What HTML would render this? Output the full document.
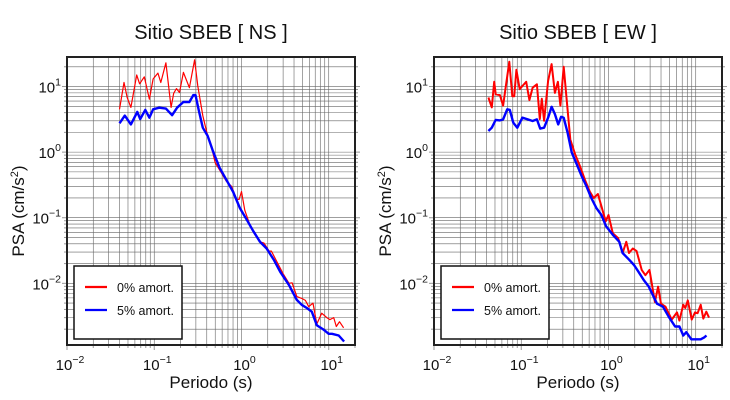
<!DOCTYPE html>
<html><head><meta charset="utf-8"><style>
body{margin:0;background:#fff}
svg{display:block;font-family:"Liberation Sans",sans-serif}
</style></head><body>
<svg id="c" width="730" height="400" viewBox="0 0 730 400"></svg>
<script>
// ---- Data (period s, PSA cm/s^2) ----
const nsRedT=[0.040,0.045,0.049,0.054,0.063,0.068,0.077,0.088,0.097,0.11,0.119,0.136,0.156,0.167,0.18,0.195,0.216,0.253,0.29,0.316,0.36,0.40,0.44,0.50,0.59,0.67,0.77,0.88,0.94,1.0,1.09,1.25,1.43,1.63,1.81,2.07,2.2,2.56,3.0,3.5,3.8,4.3,4.9,5.4,5.9,6.6,7.3,8.3,9.5,10.3,11.4,12.2,13.3,14.8];
const nsRedV=[4.5,11.5,6.8,4.8,15,11,14,6.4,13,16,11.5,23,4.8,7.9,9.3,8.1,16.4,9.6,25.5,10.2,3.6,2.0,1.4,0.69,0.48,0.36,0.30,0.19,0.19,0.25,0.13,0.078,0.055,0.043,0.041,0.031,0.031,0.021,0.014,0.010,0.0102,0.0063,0.0059,0.0055,0.0044,0.005,0.0024,0.0035,0.003,0.0028,0.003,0.0022,0.0026,0.0021];
const nsBlueT=[0.04,0.046,0.054,0.064,0.069,0.079,0.088,0.097,0.114,0.136,0.16,0.183,0.216,0.253,0.28,0.297,0.325,0.36,0.41,0.47,0.56,0.67,0.8,0.96,1.15,1.37,1.63,1.94,2.34,2.78,3.5,4.3,4.9,5.6,6.4,7.3,8.6,10,10.9,13,15];
const nsBlueV=[2.75,3.6,2.65,4.1,3.2,4.4,3.35,4.5,4.75,4.6,3.65,4.75,5.8,5.8,7.4,7.4,4.25,2.36,1.76,1.04,0.58,0.38,0.25,0.14,0.093,0.062,0.043,0.034,0.023,0.015,0.0094,0.0056,0.0047,0.0042,0.0037,0.0023,0.002,0.0017,0.0017,0.0016,0.0013];
const ewRedT=[0.042,0.046,0.049,0.051,0.057,0.062,0.067,0.073,0.079,0.083,0.088,0.096,0.103,0.114,0.124,0.135,0.151,0.163,0.172,0.183,0.203,0.223,0.243,0.263,0.281,0.307,0.365,0.415,0.472,0.537,0.61,0.676,0.757,0.83,0.93,1.0,1.12,1.29,1.45,1.6,1.72,1.9,2.1,2.4,2.65,2.95,3.4,3.7,4.0,4.5,5.3,6.1,6.5,7.2,7.6,8.1,9.0,9.8,10.5,11.4,12.2,13.2,14.2];
const ewRedV=[6.8,4.8,11.8,7.6,7.4,5.1,10.8,23.8,7.1,7.1,18,9.1,10.2,11.8,6.2,9.6,10.8,3.2,6.5,3.0,12.2,22,8,11.8,5.1,20,1.56,0.92,0.61,0.38,0.25,0.2,0.23,0.15,0.088,0.11,0.058,0.049,0.029,0.043,0.029,0.034,0.031,0.016,0.0133,0.016,0.0052,0.0089,0.0049,0.0044,0.0028,0.0036,0.0027,0.0047,0.0042,0.0055,0.0028,0.0036,0.0035,0.0047,0.0029,0.0037,0.003];
const ewBlueT=[0.042,0.046,0.051,0.057,0.062,0.069,0.074,0.081,0.09,0.103,0.119,0.135,0.151,0.165,0.183,0.203,0.223,0.243,0.265,0.286,0.307,0.34,0.38,0.433,0.493,0.56,0.636,0.727,0.83,0.94,1.12,1.33,1.45,1.72,1.96,2.23,2.54,2.9,3.6,4.2,4.9,5.8,6.5,7.2,7.8,8.9,10.5,11.4,12.5,13.3];
const ewBlueV=[2.1,2.36,3.1,3.05,3.15,4.5,4.4,2.8,2.36,3.35,3.15,2.98,3.15,2.28,2.36,3.35,4.9,3.8,2.65,3.45,3.35,1.98,0.98,0.65,0.43,0.30,0.2,0.14,0.11,0.074,0.055,0.043,0.029,0.023,0.019,0.0147,0.0112,0.0089,0.0049,0.0044,0.0031,0.0022,0.0022,0.0016,0.0018,0.0014,0.0014,0.0014,0.0015,0.0016];
const xTickExp=[-2,-1,0,1];
const yTickExp=[-2,-1,0,1];

const NS="http://www.w3.org/2000/svg";
const svg=document.getElementById('c');
function mk(tag,attrs,parent){const e=document.createElementNS(NS,tag);for(const k in attrs)e.setAttribute(k,attrs[k]);(parent||svg).appendChild(e);return e;}

function plot(p){
  const g=mk('g',{});
  
  
  const lx0=-2,lx1=Math.log10(20),ly0=-2.94,ly1=1.45;
  const X=v=>p.x0+(Math.log10(v)-lx0)/(lx1-lx0)*(p.x1-p.x0);
  const Y=v=>p.y1-(Math.log10(v)-ly0)/(ly1-ly0)*(p.y1-p.y0);
  for(let e=-2;e<=1;e++)for(let m=1;m<10;m++){const v=m*Math.pow(10,e);if(v>20)continue;const x=X(v);
    const l=mk('line',{x1:x,x2:x,y1:p.y0,y2:p.y1,stroke:'#666','stroke-width':0.6},g);
    
    const t=mk('line',{x1:x,x2:x,y1:p.y1,y2:p.y1+(m==1?5:3),stroke:'#999','stroke-width':1},g);
    }
  for(let e=-3;e<=1;e++)for(let m=1;m<10;m++){const v=m*Math.pow(10,e);const lv=Math.log10(v);if(lv<ly0||lv>ly1)continue;const y=Y(v);
    const l=mk('line',{x1:p.x0,x2:p.x1,y1:y,y2:y,stroke:'#666','stroke-width':0.6},g);
    
    const t=mk('line',{x1:p.x0-(m==1?5:3),x2:p.x0,y1:y,y2:y,stroke:'#999','stroke-width':1},g);
    
    const t2=mk('line',{x1:p.x1,x2:p.x1+(m==1?5:3),y1:y,y2:y,stroke:'#999','stroke-width':1},g);
    }
  function series(T,V,col,w,nm){const d=T.map((t,i)=>(i?'L':'M')+X(t).toFixed(1)+','+Y(V[i]).toFixed(1)).join('');
    const pa=mk('path',{d:d,fill:'none',stroke:col,'stroke-width':w,'stroke-linejoin':'round'},g);
    }
  series(p.rT,p.rV,'#f00',p.rw,'series-0pct');
  series(p.bT,p.bV,'#00f',2.4,'series-5pct');
  const f=mk('rect',{x:p.x0,y:p.y0,width:p.x1-p.x0,height:p.y1-p.y0,fill:'none',stroke:'#222','stroke-width':2},g);
  
  xTickExp.forEach(e=>{const t=mk('text',{x:X(Math.pow(10,e))+3,y:370,'text-anchor':'middle','font-size':15,fill:'#111'},g);
    
    t.innerHTML='10<tspan dy="-7" font-size="10.5">'+(e<0?'\u2212'+(-e):e)+'</tspan>';});
  yTickExp.forEach(e=>{const t=mk('text',{x:p.x0-6,y:Y(Math.pow(10,e))+6,'text-anchor':'end','font-size':15,fill:'#111'},g);
    
    t.innerHTML='10<tspan dy="-7" font-size="10.5">'+(e<0?'\u2212'+(-e):e)+'</tspan>';});
  const ti=mk('text',{x:(p.x0+p.x1)/2,y:39,'text-anchor':'middle','font-size':20,fill:'#111'},g);
  ti.textContent=p.title;
  const xl=mk('text',{x:(p.x0+p.x1)/2,y:388,'text-anchor':'middle','font-size':17,fill:'#111'},g);
  xl.textContent='Periodo (s)';
  const yl=mk('text',{x:0,y:0,'text-anchor':'middle','font-size':17,fill:'#111',transform:'translate('+(p.x0-43)+','+((p.y0+p.y1)/2+10)+') rotate(-90)'},g);
  
  yl.innerHTML='PSA (cm/s<tspan dy="-6" font-size="11">2</tspan><tspan dy="6">)</tspan>';
  const lg=mk('g',{},g);
  mk('rect',{x:p.x0+7,y:266,width:108,height:73,fill:'#fff',stroke:'#111','stroke-width':1.5},lg);
  [['0% amort.','#f00',288],['5% amort.','#00f',311]].forEach(it=>{
    const en=mk('g',{},lg);
    mk('line',{x1:p.x0+18,x2:p.x0+40,y1:it[2]-1,y2:it[2]-1,stroke:it[1],'stroke-width':2.2},en);
    const t=mk('text',{x:p.x0+50,y:it[2]+4,'font-size':12.5,fill:'#111'},en);t.textContent=it[0];});
}
plot({name:'plot-ns',title:'Sitio SBEB [ NS ]',x0:67,x1:355,y0:57,y1:345,rT:nsRedT,rV:nsRedV,bT:nsBlueT,bV:nsBlueV,rw:1.2});
plot({name:'plot-ew',title:'Sitio SBEB [ EW ]',x0:434,x1:722,y0:57,y1:345,rT:ewRedT,rV:ewRedV,bT:ewBlueT,bV:ewBlueV,rw:2});
</script>
</body></html>
